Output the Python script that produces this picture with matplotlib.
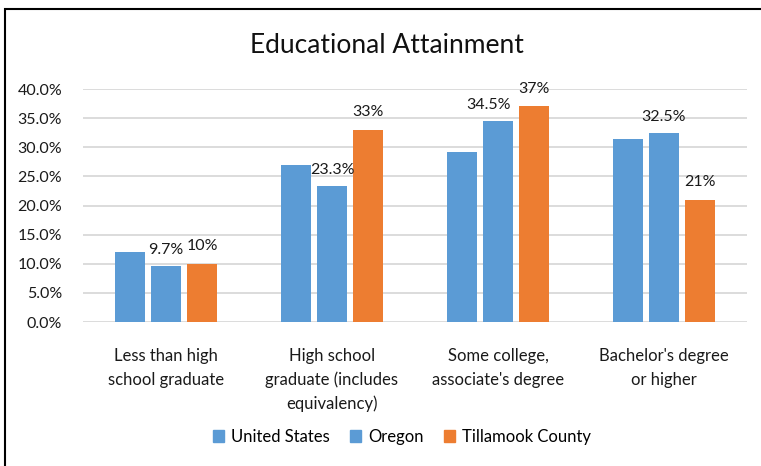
import matplotlib.pyplot as plt
from matplotlib.patches import Rectangle, Patch
from matplotlib.ticker import FuncFormatter
import numpy as np

plt.rcParams['font.family'] = ['Lato', 'DejaVu Sans']

categories = ['Less than high\nschool graduate',
              'High school\ngraduate (includes\nequivalency)',
              'Some college,\nassociate\'s degree',
              'Bachelor\'s degree\nor higher']
series_names = ['United States', 'Oregon', 'Tillamook County']
united_states = [12.0, 27.0, 29.2, 31.4]
oregon = [9.7, 23.3, 34.5, 32.5]
tillamook = [10.0, 33.0, 37.0, 21.0]

# labels shown above the Oregon and county bars
oregon_labels = ['9.7%', '23.3%', '34.5%', '32.5%']
tillamook_labels = ['10%', '33%', '37%', '21%']

blue = '#5B9BD5'
orange = '#ED7D31'
colors = [blue, blue, orange]

fig = plt.figure(figsize=(7.61, 4.66), dpi=100)
ax = fig.add_axes([0.109, 0.309, 0.8726, 0.5])

x = np.arange(len(categories))
w = 0.178
step = 0.218
bars = []
for k, vals in enumerate([united_states, oregon, tillamook]):
    b = ax.bar(x + (k - 1) * step, vals, w, color=colors[k], zorder=3,
               label=series_names[k])
    bars.append(b)

# data labels, 34.5% nudged left to clear the taller county label
shifts = [0, 0, -9, 0]
for i, (rect, lab) in enumerate(zip(bars[1], oregon_labels)):
    ax.annotate(lab, (rect.get_x() + rect.get_width() / 2, rect.get_height()),
                xytext=(shifts[i] * 0.72, 11.5), textcoords='offset points',
                ha='center', va='center', fontsize=11.5, color='#1a1a1a')
for rect, lab in zip(bars[2], tillamook_labels):
    ax.annotate(lab, (rect.get_x() + rect.get_width() / 2, rect.get_height()),
                xytext=(0, 12.5), textcoords='offset points',
                ha='center', va='center', fontsize=11.5, color='#1a1a1a')

ax.set_xlim(-0.5, len(categories) - 0.5)
ax.set_ylim(0, 40)
ax.set_yticks(np.arange(0, 40.1, 5))
ax.yaxis.set_major_formatter(FuncFormatter(lambda v, p: '%.1f%%' % v))
ax.set_xticks(x)
ax.set_xticklabels(categories, fontsize=12, color='#1a1a1a', linespacing=1.55)
ax.tick_params(axis='y', labelsize=11.5, labelcolor='#1a1a1a', length=0, pad=15)
ax.tick_params(axis='x', length=0, pad=19)
ax.grid(axis='y', color='#D9D9D9', linewidth=1.3, zorder=0)
for s in ax.spines.values():
    s.set_visible(False)

fig.text(0.508, 0.902, 'Educational Attainment', ha='center', va='center',
         fontsize=19, color='#111111')

handles = [Patch(color=c) for c in colors]
fig.legend(handles, series_names, loc='center', bbox_to_anchor=(0.528, 0.062),
           ncol=3, frameon=False, fontsize=12, handlelength=0.7,
           handleheight=0.7, handletextpad=0.4, columnspacing=1.2)

# outer chart border
fig.patches.append(Rectangle((5 / 761, -0.05), 1.0, 1 - 9 / 466 + 0.05,
                             transform=fig.transFigure, fill=False,
                             edgecolor='black', linewidth=1.5))

fig.savefig('out.png', dpi=100)
